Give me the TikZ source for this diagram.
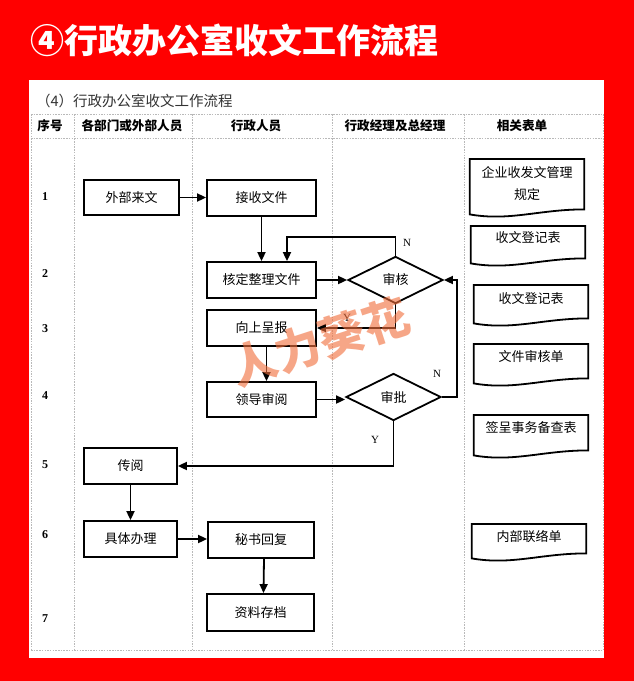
\documentclass[tikz,border=0pt]{standalone}
\usepackage{fontspec}
\setmainfont{Noto Sans CJK SC}
\newfontfamily\numfont{Liberation Serif}
\usetikzlibrary{arrows.meta,shapes.geometric,calc}
\definecolor{wmcol}{RGB}{242,112,62}
\definecolor{gridcol}{RGB}{185,185,185}
\begin{document}
\begin{tikzpicture}[x=1pt,y=-1pt,
  grid/.style={gridcol,line width=0.6pt,dash pattern=on 1.5pt off 1.2pt},
  stepbox/.style={draw,line width=1.8pt,inner sep=0pt,minimum height=36pt,font=\fontsize{13}{13}\selectfont},
  decision/.style={draw,diamond,line width=1.8pt,inner sep=0pt,minimum width=95pt,minimum height=47pt,font=\fontsize{13}{13}\selectfont},
  docframe/.style={inner sep=0pt,minimum width=114pt},
  doctext/.style={inner sep=0pt,font=\fontsize{13}{13}\selectfont,align=center},
  docline/.style={line width=1.8pt},
  hdr/.style={inner sep=0pt,font=\bfseries\fontsize{12.6}{12.6}\selectfont},
  rownum/.style={inner sep=0pt,font=\numfont\bfseries\fontsize{12}{12}\selectfont},
  yn/.style={inner sep=0pt,font=\numfont\fontsize{11}{11}\selectfont},
  arr/.style={line width=1.8pt,-{Triangle[length=9pt,width=8pt]}},
  ln/.style={line width=1.8pt}
]
\useasboundingbox (0,0) rectangle (634,681);
\fill[red] (0,0) rectangle (634,681);
\fill[white] (29,80) rectangle (604,658);

\node[anchor=west,inner sep=0pt,text=white,font=\bfseries\fontsize{34}{34}\selectfont] (title) at (30,40) {④行政办公室收文工作流程};
\node[anchor=west,inner sep=0pt,text=black!80,font=\fontsize{14.5}{14.5}\selectfont] (sub) at (36,101) {（4）行政办公室收文工作流程};

% table grid
\draw[grid] (31,114) -- (603,114);
\draw[grid] (31,138) -- (603,138);
\draw[grid] (31,650) -- (603,650);
\foreach \x in {31,74,192,332,464,603} \draw[grid] (\x,114) -- (\x,650);

% headers
\node[hdr] (h0) at (50,126) {序号};
\node[hdr] (h1) at (132,126) {各部门或外部人员};
\node[hdr] (h2) at (256,126) {行政人员};
\node[hdr] (h3) at (395,126) {行政经理及总经理};
\node[hdr] (h4) at (522,126) {相关表单};

% row numbers
\node[rownum] (r1) at (45,197) {1};
\node[rownum] (r2) at (45,274) {2};
\node[rownum] (r3) at (45,329) {3};
\node[rownum] (r4) at (45,396) {4};
\node[rownum] (r5) at (45,465) {5};
\node[rownum] (r6) at (45,535) {6};
\node[rownum] (r7) at (45,619) {7};

% process boxes
\node[stepbox,minimum width=95pt,minimum height=35pt] (ext) at (131.5,197.5) {外部来文};
\node[stepbox,minimum width=109pt] (recv) at (261.5,198) {接收文件};
\node[stepbox,minimum width=109pt] (check) at (261.5,280) {核定整理文件};
\node[stepbox,minimum width=109pt] (report) at (261.5,328) {向上呈报};
\node[stepbox,minimum width=109pt,minimum height=35pt] (lead) at (261.5,399.5) {领导审阅};
\node[stepbox,minimum width=93pt] (circ) at (130.5,466) {传阅};
\node[stepbox,minimum width=93pt] (todo) at (130.5,539) {具体办理};
\node[stepbox,minimum width=106pt] (sec) at (261,540) {秘书回复};
\node[stepbox,minimum width=107pt,minimum height=37pt] (arch) at (260.5,612.5) {资料存档};

\node[decision] (audit) at (395.5,280) {审核};
\node[decision] (appr) at (393.5,397) {审批};

% connectors
\draw[arr] (ext.east) -- (ext.east -| recv.west);
\draw[arr] (recv.south) -- (check.north);
\draw[arr] (audit.north) -- ++(0,-19) -| ([xshift=25.5pt]check.north);
\draw[arr] (check.east) -- (audit.west);
\draw[arr] (audit.south) |- (report.east);
\draw[arr] ([xshift=5pt]report.south) -- ([xshift=5pt]lead.north);
\draw[arr] (lead.east) -- (lead.east -| appr.west);
\draw[arr] (appr.east) -- ++(15,0) |- (audit.east);
\draw[arr] (appr.south) |- (circ.east);
\draw[arr] (circ.south) -- (todo.north);
\draw[arr] (todo.east) -- (todo.east -| sec.west);
\draw[arr] ([xshift=3pt]sec.south) -- ([xshift=3pt]arch.north);

\node[yn] (n1) at (407,243) {N};
\node[yn] (y1) at (347,318) {Y};
\node[yn] (n2) at (437,374) {N};
\node[yn] (y2) at (375,440) {Y};

% documents
\node[docframe,anchor=north,minimum height=55pt] (d1) at (527,159) {};
\node[docframe,anchor=north,minimum height=37pt] (d2) at (528,226) {};
\node[docframe,anchor=north,minimum height=38pt] (d3) at (531,285) {};
\node[docframe,anchor=north,minimum height=39pt] (d4) at (531,344) {};
\node[docframe,anchor=north,minimum height=40pt] (d5) at (531,415) {};
\node[docframe,anchor=north,minimum height=34pt] (d6) at (529,524) {};
\foreach \d in {d1,d2,d3,d4,d5,d6}
  \draw[docline] (\d.north west) -- (\d.north east) -- ([yshift=5pt]\d.south east)
    .. controls ([xshift=-45pt,yshift=5pt]\d.south east) and ([xshift=40pt,yshift=-7pt]\d.south west) .. (\d.south west) -- cycle;
\node[doctext,text width=110pt] (t1) at ([yshift=-25pt]d1.north) {企业收发文管理\\[9pt]规定};
\node[doctext] (t2) at ([yshift=-12pt]d2.north) {收文登记表};
\node[doctext] (t3) at ([yshift=-14pt]d3.north) {收文登记表};
\node[doctext] (t4) at ([yshift=-13pt]d4.north) {文件审核单};
\node[doctext] (t5) at ([yshift=-13pt]d5.north) {签呈事务备查表};
\node[doctext] (t6) at ([yshift=-13pt]d6.north) {内部联络单};

% watermark
\node[rotate=18,inner sep=0pt,text=wmcol,opacity=0.62,font=\bfseries\fontsize{46}{46}\selectfont] (wm) at (320,342) {人力葵花};
\end{tikzpicture}
\end{document}
